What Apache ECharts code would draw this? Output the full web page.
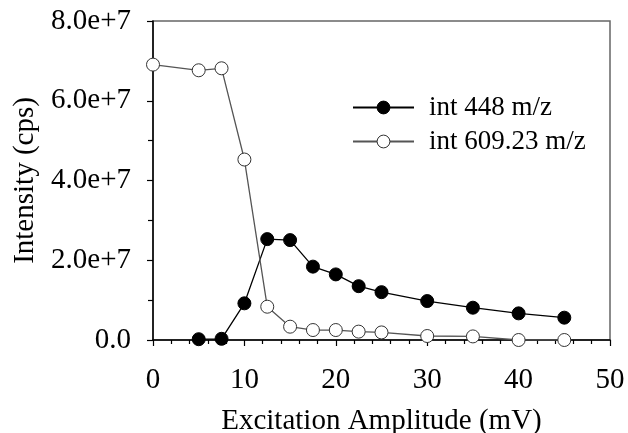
<!DOCTYPE html>
<html><head><meta charset="utf-8">
<script src="https://cdn.jsdelivr.net/npm/echarts@6/dist/echarts.min.js"></script>
<style>html,body{margin:0;padding:0;background:#fff}#c{width:628px;height:433px}</style>
</head><body><div id="c"></div>
<script>
const xValues = [0, 5, 7.5, 10, 12.5, 15, 17.5, 20, 22.5, 25, 30, 35, 40, 45];
const int448 = [null, 0.02e7, 0.03e7, 0.92e7, 2.53e7, 2.505e7, 1.84e7, 1.645e7, 1.35e7, 1.20e7, 0.977e7, 0.81e7, 0.668e7, 0.56e7];
const int609 = [6.906e7, 6.764e7, 6.814e7, 4.526e7, 0.835e7, 0.334e7, 0.25e7, 0.25e7, 0.21e7, 0.19e7, 0.10e7, 0.09e7, 0.0, 0.0];
const yTickLabels = ['0.0', '2.0e+7', '4.0e+7', '6.0e+7', '8.0e+7'];
const xTickLabels = ['0', '10', '20', '30', '40', '50'];
const seriesNames = ['int 448 m/z', 'int 609.23 m/z'];

const font = 'Liberation Serif';
const pairs = a => xValues.map((x, i) => [x, a[i]]).filter(p => p[1] !== null);

const chart = echarts.init(document.getElementById('c'), null, {renderer: 'canvas'});
chart.setOption({
  animation: false,
  backgroundColor: '#fff',
  grid: {left: 153, right: 18, top: 21, bottom: 93, show: true, borderColor: '#666', borderWidth: 1.5,
    containLabel: false, outerBoundsMode: 'none'},
  legend: {
    orient: 'vertical', left: 352, top: 94, padding: 0, itemWidth: 61, itemHeight: 16, itemGap: 7,
    textStyle: {fontFamily: font, fontSize: 27, color: '#000', padding: [0, 0, 0, 10]},
    data: [
      {name: seriesNames[0], itemStyle: {borderWidth: 1}},
      {name: seriesNames[1], itemStyle: {borderWidth: 1}}
    ]
  },
  xAxis: {
    type: 'value', min: 0, max: 50, interval: 10,
    name: 'Excitation Amplitude (mV)', nameLocation: 'middle', nameGap: 67,
    nameTextStyle: {fontFamily: font, fontSize: 29, color: '#000'},
    axisLine: {onZero: false, lineStyle: {color: '#000', width: 1.5}},
    axisTick: {inside: false, length: 6, lineStyle: {color: '#000', width: 1.2}},
    minorTick: {show: true, splitNumber: 5, length: 4, lineStyle: {color: '#000', width: 1.2}},
    axisLabel: {fontFamily: font, fontSize: 29, color: '#000', margin: 26,
      formatter: v => xTickLabels[Math.round(v / 10)]},
    splitLine: {show: false}
  },
  yAxis: {
    type: 'value', min: 0, max: 8e7, interval: 2e7,
    name: 'Intensity (cps)', nameLocation: 'middle', nameGap: 113,
    nameTextStyle: {fontFamily: font, fontSize: 29, color: '#000'},
    axisLine: {onZero: false, lineStyle: {color: '#000', width: 1.5}},
    axisTick: {inside: false, length: 6, lineStyle: {color: '#000', width: 1.2}},
    minorTick: {show: true, splitNumber: 2, length: 5, lineStyle: {color: '#000', width: 1.2}},
    axisLabel: {fontFamily: font, fontSize: 29, color: '#000', margin: 22,
      formatter: v => yTickLabels[Math.round(v / 2e7)]},
    splitLine: {show: false}
  },
  series: [
    {
      name: seriesNames[0], type: 'line', data: pairs(int448),
      symbol: 'circle', symbolSize: 13,
      lineStyle: {color: '#000', width: 1.3},
      itemStyle: {color: '#000', borderColor: '#000', borderWidth: 1}, z: 3
    },
    {
      name: seriesNames[1], type: 'line', data: pairs(int609),
      symbol: 'circle', symbolSize: 13,
      lineStyle: {color: '#555', width: 1.3},
      itemStyle: {color: '#fff', borderColor: '#333', borderWidth: 1}, z: 4
    }
  ]
});
</script></body></html>
